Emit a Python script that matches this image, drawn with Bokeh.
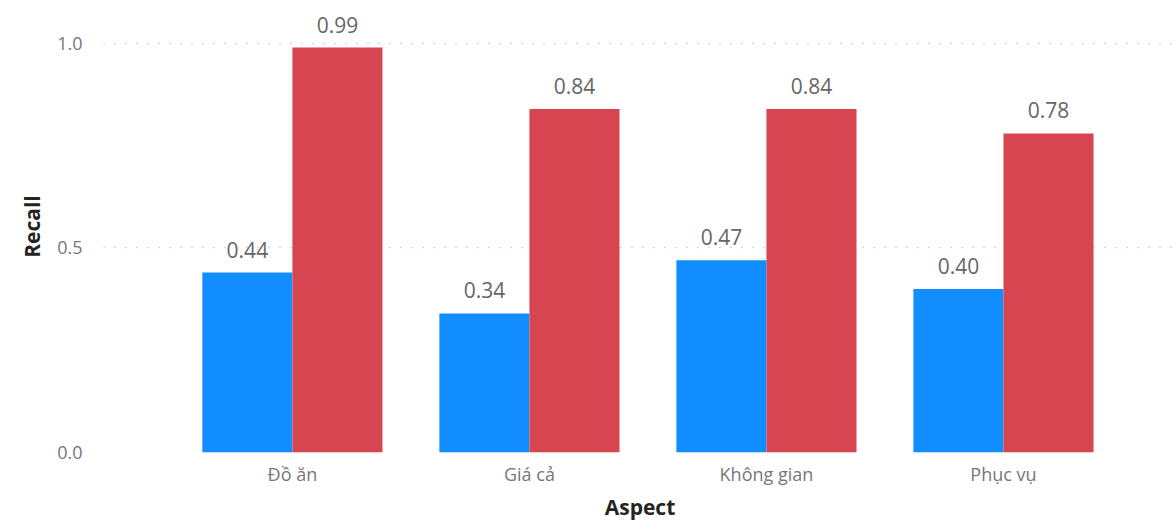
from bokeh.plotting import figure
from bokeh.models import ColumnDataSource, FixedTicker, Range1d, LabelSet
from bokeh.core.properties import value
from bokeh.embed import file_html
from bokeh.resources import INLINE

aspects = ["Đồ ăn", "Giá cả", "Không gian", "Phục vụ"]
series_a = [0.44, 0.34, 0.47, 0.40]
series_b = [0.99, 0.84, 0.84, 0.78]
y_ticks = [0.0, 0.5, 1.0]

BLUE = "#118DFF"
RED = "#D64550"
FONT = "Open Sans"

xs = [i + 0.5 for i in range(len(aspects))]
w = 0.38
src_a = ColumnDataSource(dict(x=[x - w / 2 for x in xs], top=series_a,
                              lbl=[f"{v:.2f}" for v in series_a]))
src_b = ColumnDataSource(dict(x=[x + w / 2 for x in xs], top=series_b,
                              lbl=[f"{v:.2f}" for v in series_b]))

p = figure(width=1176, height=523, output_backend="svg", toolbar_location=None,
           x_range=Range1d(-0.297, 4.23), y_range=Range1d(0, 1.105),
           min_border_left=103, min_border_right=0, min_border_top=0,
           min_border_bottom=70)
p.outline_line_color = None
p.background_fill_color = "white"
p.border_fill_color = "white"

p.vbar(x="x", top="top", width=w, bottom=0, source=src_a, color=BLUE, line_color=None)
p.vbar(x="x", top="top", width=w, bottom=0, source=src_b, color=RED, line_color=None)

for src in (src_a, src_b):
    p.add_layout(LabelSet(x="x", y="top", text="lbl", source=src,
                          text_align="center", text_baseline="bottom",
                          y_offset=15, text_font=value(FONT),
                          text_font_size=value("21px"),
                          text_color="#666666"))

p.xaxis.ticker = FixedTicker(ticks=xs)
p.xaxis.major_label_overrides = {x: a for x, a in zip(xs, aspects)}
p.yaxis.ticker = FixedTicker(ticks=y_ticks)
p.yaxis.major_label_overrides = {0.0: "0.0", 0.5: "0.5", 1.0: "1.0"}

for ax in (p.xaxis[0], p.yaxis[0]):
    ax.axis_line_color = None
    ax.major_tick_line_color = None
    ax.minor_tick_line_color = None
    ax.major_label_text_font = FONT
    ax.major_label_text_font_size = "18px"
    ax.major_label_text_color = "#777777"
    ax.axis_label_text_font = FONT
    ax.axis_label_text_font_size = "21px"
    ax.axis_label_text_font_style = "bold"
    ax.axis_label_text_color = "#252423"

p.xaxis.axis_label = "Aspect"
p.yaxis.axis_label = "Recall"
p.xaxis.major_label_standoff = 3
p.yaxis.major_label_standoff = 15
p.xaxis.axis_label_standoff = 4
p.yaxis.axis_label_standoff = 8

p.xgrid.grid_line_color = None
p.ygrid.grid_line_color = "#B0B0B0"
p.ygrid.grid_line_dash = "1 10"
p.ygrid.grid_line_width = 1.5

open("out.html", "w").write(file_html(p, INLINE))
